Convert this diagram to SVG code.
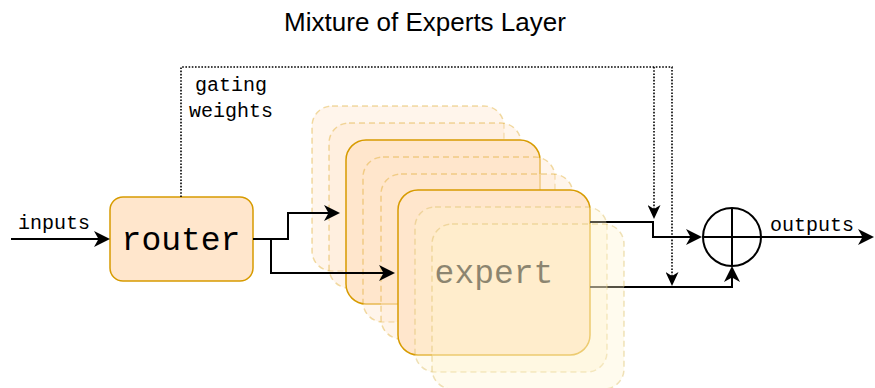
<svg xmlns="http://www.w3.org/2000/svg" width="875" height="388" viewBox="0 0 875 388">
<defs>
<style>
.mono{font-family:"Liberation Mono","Courier New",monospace;fill:#000}
.solid{fill:#ffe6cc;stroke:#d79b00;stroke-width:1.5}
.back{fill:#ffe6cc;fill-opacity:0.4;stroke:#d79b00;stroke-opacity:0.35;stroke-width:1.5;stroke-dasharray:6 4}
.front{fill:#fff2cc;fill-opacity:0.33;stroke:#d6b656;stroke-opacity:0.4;stroke-width:1.5;stroke-dasharray:6 4}
.ln{fill:none;stroke:#000;stroke-width:2}
.dot{fill:none;stroke:#000;stroke-width:1.6;stroke-dasharray:1.6 1.6}
</style>
<marker id="arr" markerUnits="userSpaceOnUse" markerWidth="17" markerHeight="16" refX="13" refY="8" orient="auto">
<path d="M0,0 L16,8 L0,16 L4.5,8 z" fill="#000"/>
</marker>
<marker id="arrs" markerUnits="userSpaceOnUse" markerWidth="14" markerHeight="13" refX="11" refY="6.5" orient="auto">
<path d="M0,0 L14,6.5 L0,13 L4,6.5 z" fill="#000"/>
</marker>
</defs>
<rect width="875" height="388" fill="#fff"/>
<text x="425" y="31" text-anchor="middle" font-family="'Liberation Sans',Arial,sans-serif" font-size="26" fill="#000">Mixture of Experts Layer</text>

<g id="expert1"><rect class="back" x="312" y="106" width="192" height="165" rx="20"/></g>
<g id="expert2"><rect class="back" x="329" y="123" width="192" height="165" rx="20"/></g>
<g id="expert3"><rect class="solid" x="346" y="140" width="194" height="164" rx="20"/></g>
<g id="expert4"><rect class="back" x="363" y="157" width="192" height="165" rx="20"/></g>
<g id="expert5"><rect class="back" x="381" y="174" width="192" height="165" rx="20"/></g>
<g id="expert6"><rect class="solid" x="398" y="190" width="192" height="165" rx="20"/>
<text class="mono" x="494" y="283" text-anchor="middle" font-size="33">expert</text></g>

<g id="router"><rect class="solid" x="110" y="197" width="143" height="84" rx="13"/>
<text class="mono" x="181" y="250" text-anchor="middle" font-size="33">router</text></g>

<g id="connectors">
<path class="ln" d="M11,239 H107" marker-end="url(#arr)"/>
<path class="ln" d="M253,239 H288 V213 H337" marker-end="url(#arr)"/>
<path class="ln" d="M253,239 H271 V273 H392" marker-end="url(#arr)"/>
<path class="ln" d="M590,222 H653 V237 H699" marker-end="url(#arr)"/>
<path class="ln" d="M590,287 H732 V269" marker-end="url(#arr)"/>
<path class="ln" d="M761,237 H871" marker-end="url(#arr)"/>
<path class="dot" d="M181,197 V67 H672 V283" marker-end="url(#arrs)"/>
<path class="dot" d="M654,67 V216" marker-end="url(#arrs)"/>
<text class="mono" x="231" y="91" text-anchor="middle" font-size="20">gating</text>
<text class="mono" x="231" y="117" text-anchor="middle" font-size="20">weights</text>
<text class="mono" x="54" y="229" text-anchor="middle" font-size="20">inputs</text>
<text class="mono" x="812" y="231" text-anchor="middle" font-size="20">outputs</text>
</g>

<g id="expert7"><rect class="front" x="415" y="207" width="192" height="165" rx="20"/></g>
<g id="expert8"><rect class="front" x="432" y="224" width="192" height="165" rx="20"/></g>

<g id="sum">
<circle cx="732" cy="237" r="29" fill="#fff" stroke="#000" stroke-width="2"/>
<path d="M703,237 H761 M732,208 V266" stroke="#000" stroke-width="2" fill="none"/>
</g>
</svg>
